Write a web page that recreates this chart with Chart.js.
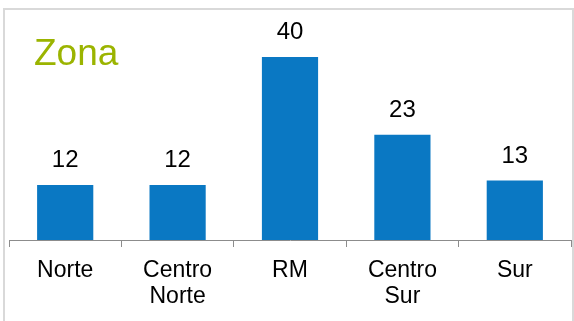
<!DOCTYPE html>
<html>
<head>
<meta charset="utf-8">
<script src="https://cdn.jsdelivr.net/npm/chart.js@4"></script>
<style>
  html, body { margin: 0; padding: 0; background: #fff; }
  #wrap { position: relative; width: 574px; height: 321px; overflow: hidden; }
  #frame {
    position: absolute; left: 3px; top: 8px; width: 571px; height: 330px;
    border: 2px solid #d9d9d9; box-sizing: border-box;
  }
  #chart { position: absolute; left: 0; top: 0; }
</style>
</head>
<body>
<div id="wrap">
  <div id="frame"></div>
  <canvas id="chart" width="574" height="321"></canvas>
</div>
<script>
// Respuestas por zona
const zonas = [['Norte'], ['Centro', 'Norte'], ['RM'], ['Centro', 'Sur'], ['Sur']];
const valores = [12, 12, 40, 23, 13];

const FONT = "'Liberation Sans', Arial, sans-serif";

// etiquetas de valor sobre cada barra + titulo
const labelsPlugin = {
  id: 'valueLabels',
  afterDatasetsDraw(chart) {
    const ctx = chart.ctx;
    const meta = chart.getDatasetMeta(0);
    ctx.save();
    ctx.fillStyle = '#000';
    ctx.font = '24px ' + FONT;
    ctx.textAlign = 'center';
    ctx.textBaseline = 'alphabetic';
    meta.data.forEach((bar, i) => {
      ctx.fillText(String(valores[i]), bar.x, bar.y - 18);
    });
    ctx.fillStyle = '#9bb400';
    ctx.font = '37px ' + FONT;
    ctx.textAlign = 'left';
    ctx.fillText('Zona', 34, 65);
    ctx.restore();
  }
};

new Chart(document.getElementById('chart').getContext('2d'), {
  type: 'bar',
  data: {
    labels: zonas,
    datasets: [{
      data: valores,
      backgroundColor: '#0a78c3',
      barPercentage: 0.5,
      categoryPercentage: 1.0
    }]
  },
  options: {
    responsive: false,
    animation: false,
    layout: { padding: { left: 9, right: 3, top: 11.25, bottom: 0 } },
    plugins: {
      legend: { display: false },
      tooltip: { enabled: false }
    },
    scales: {
      y: { display: false, min: 0, max: 50 },
      x: {
        afterFit(scale) { scale.height = 81; },
        border: { display: true, color: '#8c8c8c', width: 1 },
        grid: {
          offset: true,
          drawOnChartArea: false,
          drawTicks: true,
          tickLength: 7,
          color: '#8c8c8c'
        },
        ticks: {
          color: '#000',
          padding: 11,
          maxRotation: 0,
          font: { family: FONT, size: 23, lineHeight: 1.13 }
        }
      }
    }
  },
  plugins: [labelsPlugin]
});
</script>
</body>
</html>
